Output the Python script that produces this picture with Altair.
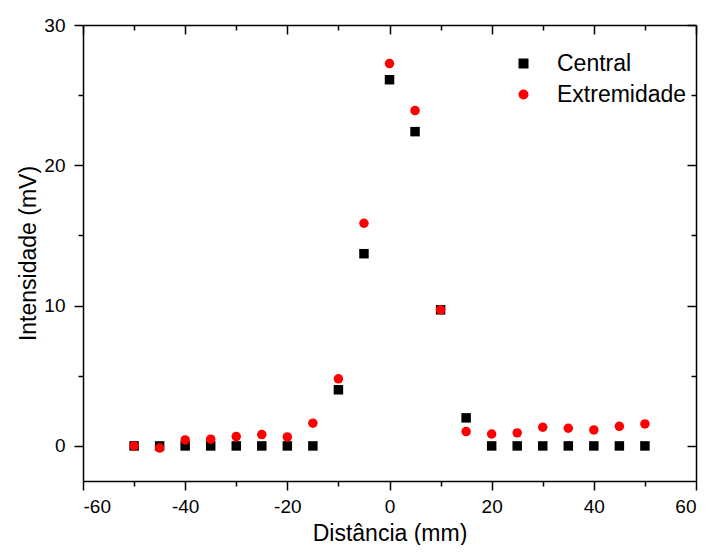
import altair as alt
import pandas as pd

distancia = [-50, -45, -40, -35, -30, -25, -20, -15, -10, -5, 0, 5, 10, 15, 20, 25, 30, 35, 40, 45, 50]
central = [0, 0, 0, 0, 0, 0, 0, 0, 4.0, 13.7, 26.1, 22.4, 9.7, 2.0, 0, 0, 0, 0, 0, 0, 0]
extremidade = [0.0, -0.15, 0.43, 0.48, 0.67, 0.81, 0.64, 1.62, 4.78, 15.87, 27.25, 23.9, 9.7,
               1.02, 0.85, 0.93, 1.33, 1.26, 1.14, 1.4, 1.57]
series = ["Central", "Extremidade"]
x_ticks = list(range(-60, 61, 10))
y_ticks = [0, 5, 10, 15, 20, 25, 30]

rows = []
for name, vals in zip(series, [central, extremidade]):
    for d, v in zip(distancia, vals):
        rows.append({"Distância": d, "Intensidade": v, "Série": name})
df = pd.DataFrame(rows)

FONT = "Liberation Sans"
xscale = alt.Scale(domain=[-60, 60], nice=False, zero=False)
yscale = alt.Scale(domain=[-2.5, 30], nice=False, zero=False)

major_x = "abs(datum.value) % 20 == 0"
major_y = "abs(datum.value) % 10 == 0"

points = alt.Chart(df).mark_point(filled=True, opacity=1, size=90).encode(
    x=alt.X("Distância:Q", scale=xscale,
            axis=alt.Axis(orient="bottom", values=x_ticks, title="Distância (mm)",
                          labelExpr=f"{major_x} ? '' + datum.value : ''",
                          tickSize={"condition": {"test": major_x, "value": 9}, "value": 5},
                          labelPadding=7, titlePadding=6)),
    y=alt.Y("Intensidade:Q", scale=yscale,
            axis=alt.Axis(orient="left", values=y_ticks, title="Intensidade (mV)",
                          labelExpr=f"{major_y} ? '' + datum.value : ''",
                          tickSize={"condition": {"test": major_y, "value": 9}, "value": 5},
                          labelPadding=9, titlePadding=3)),
    color=alt.Color("Série:N", scale=alt.Scale(domain=series, range=["#000000", "#ff0000"]),
                    legend=alt.Legend(title=None, orient="none", legendX=429, legendY=27,
                                      labelFontSize=23, labelFont=FONT, symbolSize=100,
                                      labelOffset=22, rowPadding=7, symbolStrokeWidth=0)),
    shape=alt.Shape("Série:N", scale=alt.Scale(domain=series, range=["square", "circle"])),
    order=alt.Order("order:Q"),
).transform_calculate(order="datum['Série'] == 'Central' ? 0 : 1")

frame = alt.Chart(df).mark_point(opacity=0).encode(
    x=alt.X("Distância:Q", scale=xscale,
            axis=alt.Axis(orient="top", values=x_ticks, title=None, labels=False,
                          tickSize={"condition": {"test": major_x, "value": -9}, "value": -5})),
    y=alt.Y("Intensidade:Q", scale=yscale,
            axis=alt.Axis(orient="right", values=y_ticks, title=None, labels=False,
                          tickSize={"condition": {"test": major_y, "value": -9}, "value": -5})),
)

chart = alt.layer(points, frame).resolve_axis(x="independent", y="independent").properties(
    width=613, height=456,
    autosize=alt.AutoSizeParams(type="none"),
    padding={"left": 75, "top": 17, "right": 6, "bottom": 64},
).configure_view(stroke=None).configure_axis(
    domainColor="black", domainWidth=1.5, tickColor="black", tickWidth=1.5,
    grid=False, labelFont=FONT, labelFontSize=19, labelColor="black",
    titleFont=FONT, titleFontSize=23, titleFontWeight="normal", titleColor="black",
)

chart.save("out.html", embed_options={"renderer": "svg", "actions": False})
